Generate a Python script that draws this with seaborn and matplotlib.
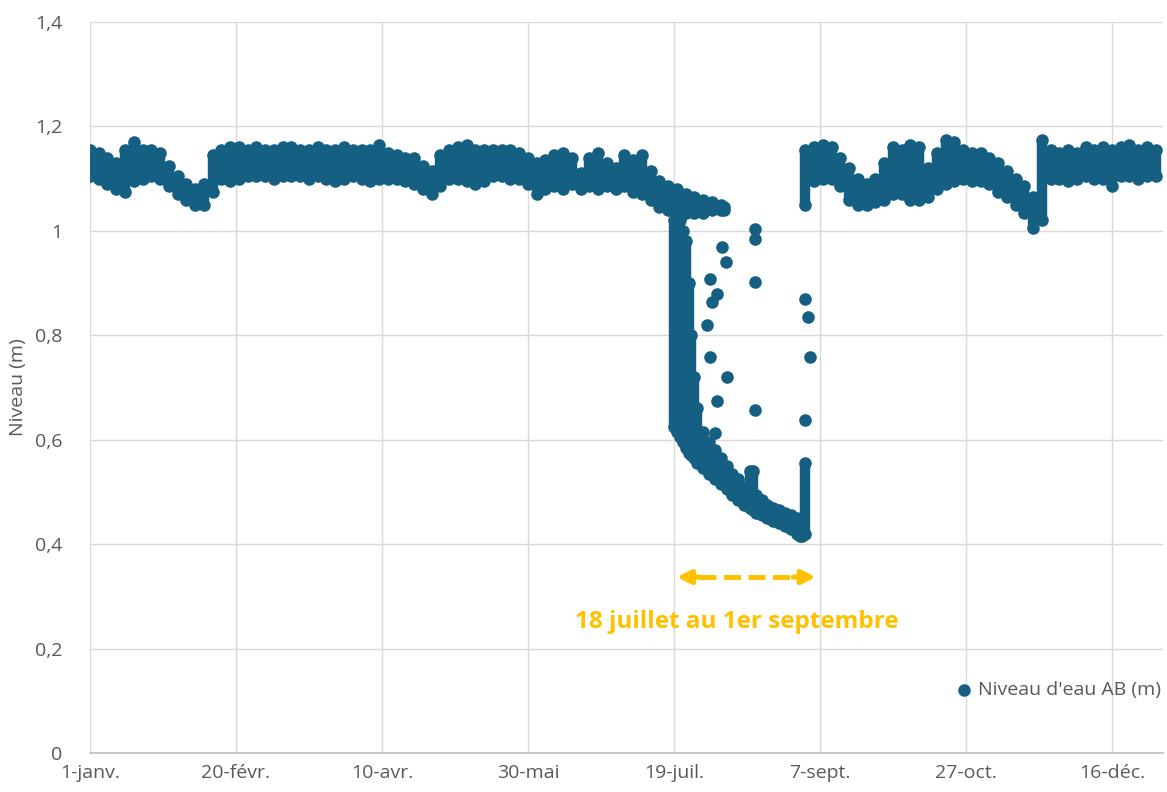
import numpy as np
import pandas as pd
import matplotlib.pyplot as plt
import seaborn as sns

# Niveau d'eau AB (m) - jour de l'année (2024), min / max relevés
# période normale, janvier -> mi-juillet (tous les 3 jours)
jours_a = np.arange(0, 199, 3)
max_a = [1.155, 1.15, 1.14, 1.13, 1.155, 1.17, 1.155, 1.155, 1.15, 1.125,
         1.105, 1.09, 1.08, 1.09, 1.145, 1.155, 1.16, 1.16, 1.155, 1.16,
         1.155, 1.155, 1.16, 1.16, 1.155, 1.155, 1.16, 1.155, 1.155, 1.16,
         1.155, 1.155, 1.155, 1.165, 1.15, 1.145, 1.14, 1.14, 1.125, 1.115,
         1.145, 1.155, 1.16, 1.165, 1.155, 1.155, 1.155, 1.155, 1.155, 1.15,
         1.14, 1.13, 1.135, 1.145, 1.15, 1.14, 1.11, 1.14, 1.15, 1.13,
         1.12, 1.145, 1.135, 1.145, 1.115, 1.095, 1.085]
min_a = [1.105, 1.10, 1.09, 1.08, 1.075, 1.095, 1.10, 1.105, 1.10, 1.085,
         1.07, 1.06, 1.05, 1.05, 1.075, 1.10, 1.095, 1.10, 1.105, 1.105,
         1.105, 1.10, 1.105, 1.105, 1.105, 1.10, 1.105, 1.10, 1.095, 1.10,
         1.105, 1.10, 1.095, 1.10, 1.10, 1.10, 1.095, 1.09, 1.08, 1.07,
         1.085, 1.10, 1.10, 1.095, 1.09, 1.095, 1.105, 1.105, 1.10, 1.10,
         1.09, 1.07, 1.08, 1.085, 1.08, 1.09, 1.08, 1.085, 1.08, 1.085,
         1.08, 1.085, 1.075, 1.07, 1.06, 1.045, 1.04]

# fin juillet : relevés restés hauts
jours_haut = [201, 204, 207, 210, 213, 216, 217]
max_haut = [1.08, 1.07, 1.065, 1.06, 1.055, 1.05, 1.045]
min_haut = [1.035, 1.035, 1.035, 1.035, 1.04, 1.04, 1.04]

# 18 juillet au 1er septembre : baisse
jours_sec = [200, 201, 202, 203, 204, 205, 206, 207, 208, 210, 212, 214, 216,
             218, 220, 222, 224, 226, 227, 228, 230, 232, 234, 236, 238, 240,
             242, 243, 244, 245]
max_sec = [1.02, 1.02, 1.02, 1.0, 0.98, 0.90, 0.80, 0.72, 0.66, 0.615, 0.595,
           0.58, 0.565, 0.55, 0.535, 0.525, 0.51, 0.54, 0.54, 0.495, 0.485,
           0.475, 0.47, 0.465, 0.46, 0.455, 0.45, 0.445, 0.445, 0.555]
min_sec = [0.625, 0.615, 0.605, 0.595, 0.585, 0.575, 0.57, 0.565, 0.555,
           0.545, 0.535, 0.525, 0.515, 0.505, 0.495, 0.485, 0.475, 0.47,
           0.465, 0.46, 0.455, 0.45, 0.445, 0.44, 0.435, 0.43, 0.42, 0.415,
           0.415, 0.42]

# points isolés
jours_isoles = [216.4, 217.8, 212.3, 214.7, 213, 211.3, 212.3, 218.2, 214.7,
                214, 227.7, 227.7, 227.7, 227.7, 244.9, 245.9, 246.6, 244.9]
niveau_isoles = [0.97, 0.94, 0.908, 0.88, 0.864, 0.82, 0.758, 0.72, 0.675,
                 0.613, 1.003, 0.985, 0.902, 0.657, 0.87, 0.835, 0.758, 0.638]

# septembre -> décembre (tous les 3 jours)
jours_b = np.arange(245, 366, 3)
max_b = [1.155, 1.16, 1.165, 1.16, 1.14, 1.12, 1.10, 1.09, 1.10, 1.13,
         1.16, 1.155, 1.165, 1.16, 1.12, 1.15, 1.175, 1.17, 1.155, 1.15,
         1.15, 1.14, 1.13, 1.115, 1.10, 1.085, 1.065, 1.175, 1.155, 1.15,
         1.155, 1.15, 1.16, 1.155, 1.16, 1.155, 1.16, 1.165, 1.155, 1.16,
         1.155]
min_b = [1.05, 1.095, 1.10, 1.10, 1.085, 1.06, 1.05, 1.05, 1.055, 1.06,
         1.07, 1.07, 1.06, 1.06, 1.065, 1.08, 1.09, 1.095, 1.10, 1.095,
         1.095, 1.09, 1.075, 1.065, 1.05, 1.035, 1.005, 1.02, 1.10, 1.10,
         1.095, 1.10, 1.105, 1.10, 1.10, 1.085, 1.105, 1.105, 1.10, 1.105,
         1.105]

x_ticks = [0, 50, 100, 150, 200, 250, 300, 350]
x_labels = ["1-janv.", "20-févr.", "10-avr.", "30-mai", "19-juil.",
            "7-sept.", "27-oct.", "16-déc."]
y_ticks = [0, 0.2, 0.4, 0.6, 0.8, 1.0, 1.2, 1.4]
y_labels = ["0", "0,2", "0,4", "0,6", "0,8", "1", "1,2", "1,4"]

sns.set_theme(style="white")
plt.rcParams['font.family'] = ['Open Sans', 'DejaVu Sans']

bleu = "#156082"
orange = "#FFC000"
gris = "#595959"

segments = [(jours_a, min_a, max_a), (jours_haut, min_haut, max_haut),
            (jours_sec, min_sec, max_sec), (jours_b, min_b, max_b)]
pts = pd.concat(
    [pd.DataFrame({"jour": np.r_[j, j], "niveau": np.r_[lo, hi]}) for j, lo, hi in segments]
    + [pd.DataFrame({"jour": jours_isoles, "niveau": niveau_isoles})],
    ignore_index=True)

fig, ax = plt.subplots(figsize=(11.67, 7.92), dpi=100)
fig.subplots_adjust(left=0.0771, right=0.9966, top=0.9722, bottom=0.0492)

# relevés denses : étendue min-max de chaque jour
for j, lo, hi in segments:
    ax.vlines(j, lo, hi, color=bleu, linewidth=7.5, zorder=2)
sns.scatterplot(data=pts, x="jour", y="niveau", color=bleu, s=82, linewidth=0,
                ax=ax, label="Niveau d'eau AB (m)", zorder=3)

ax.set_xlim(0, 367.5)
ax.set_ylim(0, 1.4)
ax.set_xticks(x_ticks)
ax.set_xticklabels(x_labels)
ax.set_yticks(y_ticks)
ax.set_yticklabels(y_labels)
ax.tick_params(axis="both", length=0, labelsize=14, labelcolor=gris)
ax.tick_params(axis="x", pad=8)
ax.tick_params(axis="y", pad=20)
ax.grid(True, color="#D9D9D9", linewidth=1)
ax.set_axisbelow(True)
for s in ["top", "right", "left"]:
    ax.spines[s].set_visible(False)
ax.spines["bottom"].set_color("#BFBFBF")
ax.spines["bottom"].set_linewidth(1.2)

ax.set_xlabel("")
ax.set_ylabel("Niveau (m)", fontsize=14, color=gris)
ax.yaxis.set_label_coords(-0.059, 0.5)

# flèche 18 juillet -> 1er septembre
y_fl = 0.337
ax.plot([208.5, 241.5], [y_fl, y_fl], color=orange, lw=3.6, ls=(0, (3.4, 1.5)),
        solid_capstyle="butt", zorder=4)
ax.annotate("", xy=(201.0, y_fl), xytext=(209, y_fl),
            arrowprops=dict(arrowstyle="-|>", color=orange, lw=3.6,
                            mutation_scale=20, shrinkA=0, shrinkB=0))
ax.annotate("", xy=(248.6, y_fl), xytext=(240.8, y_fl),
            arrowprops=dict(arrowstyle="-|>", color=orange, lw=3.6,
                            mutation_scale=20, shrinkA=0, shrinkB=0))
ax.text(221.4, 0.251, "18 juillet au 1er septembre", color=orange,
        fontsize=17.5, fontweight="bold", ha="center", va="center")

leg = ax.legend(loc="center right", bbox_to_anchor=(0.998, 0.086), frameon=False,
                fontsize=14, handletextpad=0.3, handlelength=0.8,
                borderaxespad=0, borderpad=0)
for t in leg.get_texts():
    t.set_color(gris)

plt.savefig("out.png", dpi=100)
